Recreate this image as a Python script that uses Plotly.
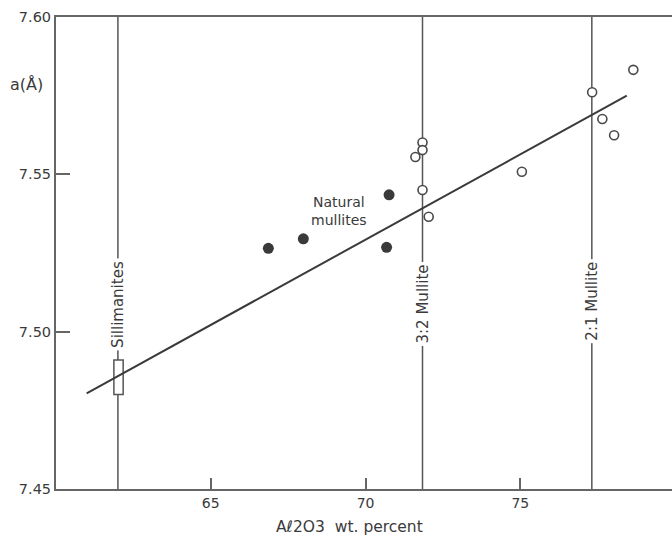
import plotly.graph_objects as go

# Lattice parameter a (Å) versus Al2O3 content (wt. %)
synthetic_al2o3 = [71.61, 71.84, 71.84, 71.84, 72.04, 75.05, 77.32, 77.65, 78.03, 78.65]
synthetic_a = [7.5555, 7.5601, 7.5577, 7.5450, 7.5365, 7.5508, 7.5761, 7.5676, 7.5624, 7.5832]

natural_al2o3 = [66.86, 67.99, 70.76, 70.68]
natural_a = [7.5265, 7.5295, 7.5435, 7.5268]

# Least-squares line end points
fit_al2o3 = [60.99, 78.44]
fit_a = [7.4804, 7.5750]

# Reference compositions (wt. % Al2O3)
phase_names = ["Sillimanites", "3:2 Mullite", "2:1 Mullite"]
phase_al2o3 = [62.0, 71.84, 77.31]
phase_label_a = [7.5088, 7.5088, 7.5098]

# Sillimanite range of a
sill_a_range = [7.480, 7.491]
sill_al2o3_range = [61.87, 62.17]

x_ticks = [65, 70, 75]
y_ticks = [7.45, 7.50, 7.55, 7.60]
y_tick_text = ["7.45", "7.50", "7.55", "7.60"]

FONT = "DejaVu Sans"
INK = "#3a3a3a"
FRAME = "#666666"

fig = go.Figure()

fig.add_trace(go.Scatter(
    x=fit_al2o3, y=fit_a, mode="lines",
    line=dict(color=INK, width=2), showlegend=False, hoverinfo="skip"))

fig.add_trace(go.Scatter(
    x=natural_al2o3, y=natural_a, mode="markers",
    marker=dict(symbol="circle", size=11, color=INK, line=dict(width=0)),
    showlegend=False))

fig.add_trace(go.Scatter(
    x=synthetic_al2o3, y=synthetic_a, mode="markers",
    marker=dict(symbol="circle", size=9, color="white",
                line=dict(color="#4a4a4a", width=1.6)),
    showlegend=False))

shapes = []
for xv in phase_al2o3:
    shapes.append(dict(type="line", xref="x", yref="paper", x0=xv, x1=xv, y0=0, y1=1,
                       line=dict(color="#555555", width=1.5), layer="below"))
shapes.append(dict(type="rect", xref="x", yref="y",
                   x0=sill_al2o3_range[0], x1=sill_al2o3_range[1],
                   y0=sill_a_range[0], y1=sill_a_range[1],
                   fillcolor="white", line=dict(color="#555555", width=1.5), layer="below"))

annotations = []
for name, xv, yv in zip(phase_names, phase_al2o3, phase_label_a):
    annotations.append(dict(x=xv, y=yv, xref="x", yref="y", text=name, textangle=-90,
                            showarrow=False, bgcolor="white", borderpad=2,
                            font=dict(family=FONT, size=15, color=INK)))

annotations.append(dict(x=69.14, y=7.5383, xref="x", yref="y",
                        text="Natural<br>mullites", showarrow=False, align="center",
                        font=dict(family=FONT, size=14, color=INK)))

annotations.append(dict(x=26, y=85, xref="paper", yref="paper", text="a(Å)",
                        showarrow=False, font=dict(family=FONT, size=16, color=INK)))

annotations.append(dict(x=349, y=527, xref="paper", yref="paper",
                        text="Aℓ2O3  wt. percent", showarrow=False,
                        font=dict(family=FONT, size=15.5, color=INK)))

# convert pixel-positioned labels to paper coordinates
W, H = 672, 539
L, R, T, B = 56, 0, 17, 50
pw, ph = W - L - R, H - T - B
for a in annotations[-2:]:
    a["x"] = (a["x"] - L) / pw
    a["y"] = (H - B - a["y"]) / ph
    a["xanchor"] = "center"
    a["yanchor"] = "middle"

fig.update_layout(
    width=W, height=H,
    margin=dict(l=L, r=R, t=T, b=B, pad=0),
    paper_bgcolor="white", plot_bgcolor="white",
    shapes=shapes, annotations=annotations,
    xaxis=dict(range=[60, 79.9], tickvals=x_ticks, ticks="inside", ticklen=11,
               tickwidth=1.5, tickcolor=FRAME, showline=True, mirror=True,
               linecolor=FRAME, linewidth=2, showgrid=False, zeroline=False,
               tickfont=dict(family=FONT, size=14, color=INK)),
    yaxis=dict(range=[7.45, 7.60], tickvals=y_ticks, ticktext=y_tick_text,
               ticks="inside", ticklen=14, tickwidth=1.5, tickcolor=FRAME,
               showline=True, linecolor=FRAME, linewidth=2, showgrid=False,
               zeroline=False, tickfont=dict(family=FONT, size=14.5, color=INK)),
)

fig.write_html("out.html")
